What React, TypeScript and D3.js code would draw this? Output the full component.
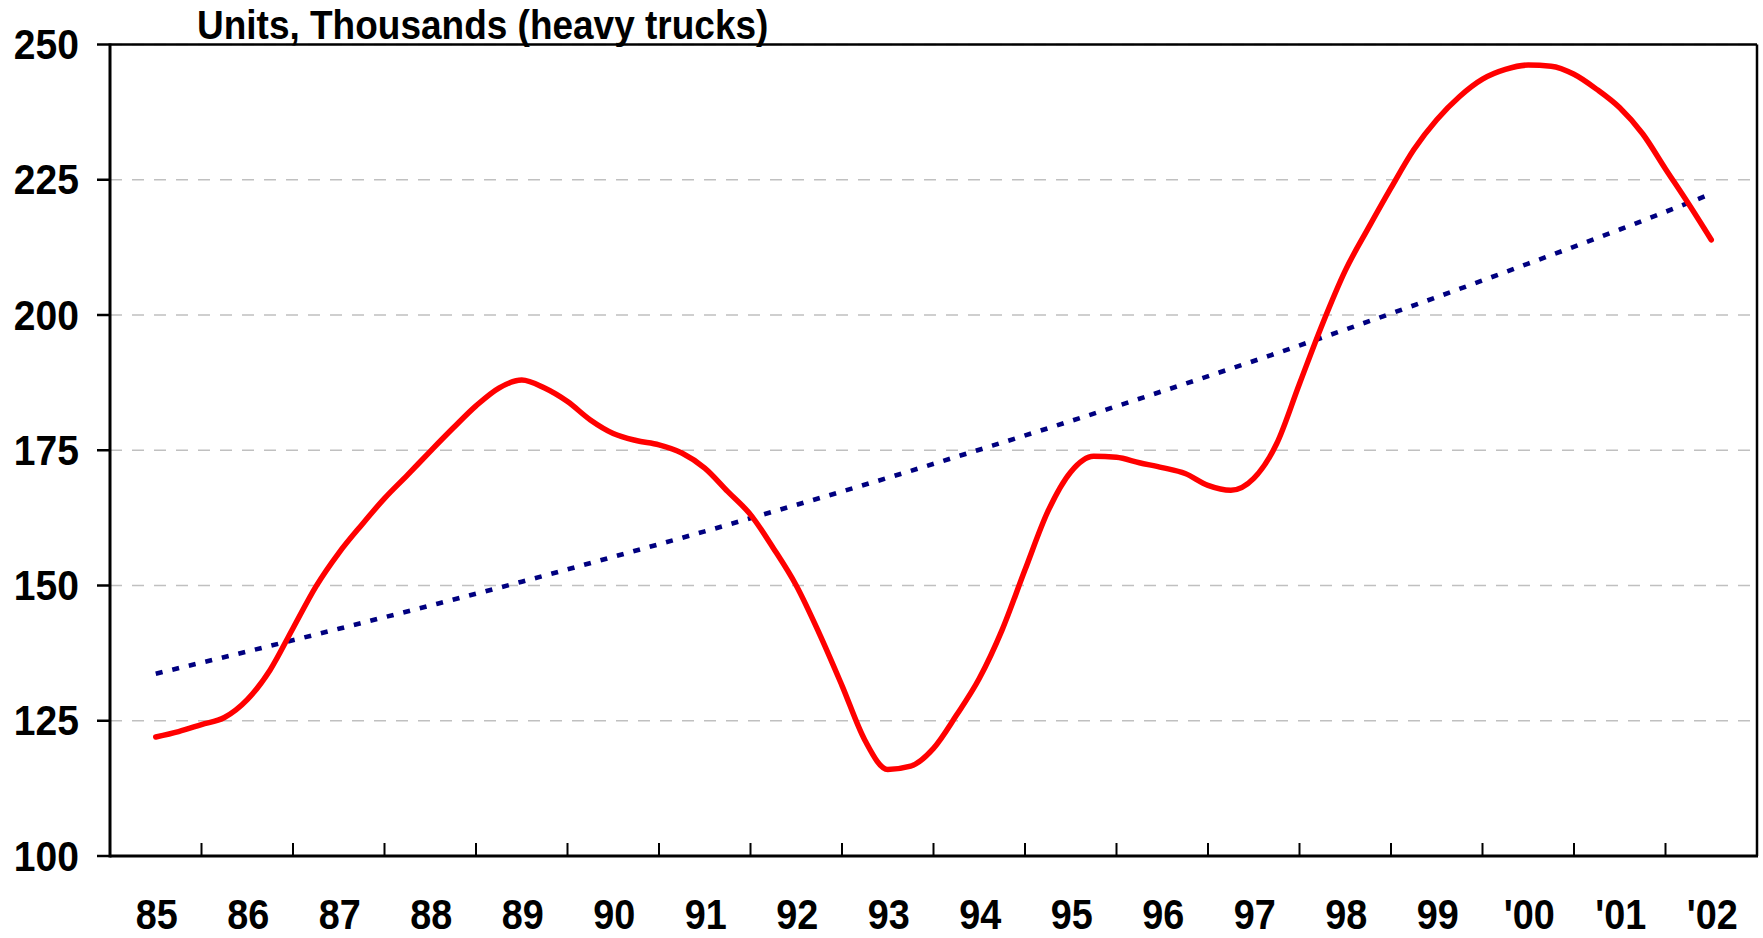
import React from "react";
import * as d3 from "d3";

// Category labels (one per year band)
const yearLabels = ["85", "86", "87", "88", "89", "90", "91", "92", "93", "94", "95", "96", "97", "98", "99", "'00", "'01", "'02"];

// Y axis ticks
const yTicks = [100, 125, 150, 175, 200, 225, 250];

// Heavy truck sales, quarterly, 1985 .. 2002 (thousands of units)
const truckQuarterly = [
  122.0, 123.0, 124.3, 125.6,
  128.9, 134.4, 142.1, 149.8,
  156.0, 161.2, 166.1, 170.4,
  174.8, 179.1, 183.2, 186.5,
  188.0, 186.5, 184.0, 180.6,
  178.1, 176.8, 176.0, 174.5,
  171.7, 167.4, 163.1, 156.9,
  150.0, 141.2, 131.5, 121.4,
  116.0, 116.6, 119.9, 126.0,
  132.8, 141.8, 152.9, 163.7,
  171.0, 173.9, 173.7, 172.7,
  171.8, 170.7, 168.5, 167.6,
  169.8, 176.2, 187.3, 198.3,
  208.2, 216.0, 223.5, 230.6,
  236.1, 240.4, 243.6, 245.4,
  246.2, 246.0, 244.5, 241.7,
  238.3, 233.5, 227.0, 220.6,
  213.9,
];

// Trend line, one reading per year
const trendYearly = [133.7, 137.8, 142.0, 146.3, 150.7, 155.3, 160.0, 164.9, 169.9, 175.1, 180.4, 185.9, 191.5, 197.3, 203.3, 209.5, 215.8, 222.4];

const titleText = "Units, Thousands (heavy trucks)";

export default function App() {
  const W = 1763;
  const H = 938;
  const left = 110;
  const right = 1757;
  const top = 44.5;
  const bottom = 856;

  const x = d3.scaleLinear().domain([-0.5, yearLabels.length - 0.5]).range([left, right]);
  const y = d3.scaleLinear().domain([100, 250]).range([bottom, top]);

  const redLine = d3
    .line<number>()
    .x((_, i) => x(i / 4))
    .y((d) => y(d))
    .curve(d3.curveMonotoneX)(truckQuarterly) as string;

  const trendLine = d3
    .line<number>()
    .x((_, i) => x(i))
    .y((d) => y(d))
    .curve(d3.curveMonotoneX)(trendYearly) as string;

  const bandTicks = d3.range(1, yearLabels.length);
  const font = "'Liberation Sans', Arial, Helvetica, sans-serif";

  return (
    <svg
      width={W}
      height={H}
      viewBox={`0 0 ${W} ${H}`}
      style={{ position: "absolute", left: 0, top: 0, background: "#fff" }}
    >
      <rect x={0} y={0} width={W} height={H} fill="#fff" />
      {/* gridlines */}
      {yTicks
        .filter((t) => t > 100)
        .map((t) => (
          <line
            key={"g" + t}
            x1={left}
            x2={right}
            y1={y(t)}
            y2={y(t)}
            stroke="#c0c0c0"
            strokeWidth={1.6}
            strokeDasharray="12 10"
          />
        ))}

      {/* trend line */}
      <path d={trendLine} fill="none" stroke="#000080" strokeWidth={4.6} strokeDasharray="7 10" />

      {/* data line */}
      <path d={redLine} fill="none" stroke="#ff0000" strokeWidth={5.5} strokeLinejoin="round" strokeLinecap="round" />

      {/* plot border top/right */}
      <line x1={left} x2={right} y1={top} y2={top} stroke="#000" strokeWidth={2.5} />
      <line x1={right} x2={right} y1={top} y2={bottom} stroke="#000" strokeWidth={2.5} />
      {/* axes */}
      <line x1={left} x2={left} y1={top - 1} y2={bottom + 1.5} stroke="#000" strokeWidth={3} />
      <line x1={left} x2={right + 1} y1={bottom} y2={bottom} stroke="#000" strokeWidth={3} />

      {/* y ticks & labels */}
      {yTicks.map((t) => (
        <g key={"y" + t}>
          <line x1={left - 13} x2={left} y1={y(t)} y2={y(t)} stroke="#000" strokeWidth={2.5} />
          <text
            transform={`translate(79,${y(t) + 14.5}) scale(0.93,1)`}
            textAnchor="end"
            fontFamily={font}
            fontWeight="bold"
            fontSize={42}
            fill="#000"
          >
            {t}
          </text>
        </g>
      ))}

      {/* x band ticks (inside) */}
      {bandTicks.map((k) => (
        <line
          key={"xt" + k}
          x1={x(k - 0.5)}
          x2={x(k - 0.5)}
          y1={bottom}
          y2={bottom - 13}
          stroke="#000"
          strokeWidth={2}
        />
      ))}

      {/* x labels */}
      {yearLabels.map((lab, i) => (
        <text
          key={"xl" + i}
          transform={`translate(${x(i) + 1},${928.5}) scale(0.9,1)`}
          textAnchor="middle"
          fontFamily={font}
          fontWeight="bold"
          fontSize={42}
          fill="#000"
        >
          {lab}
        </text>
      ))}

      {/* title */}
      <text
        transform={`translate(197,39) scale(0.925,1)`}
        fontFamily={font}
        fontWeight="bold"
        fontSize={40}
        fill="#000"
      >
        {titleText}
      </text>
    </svg>
  );
}
